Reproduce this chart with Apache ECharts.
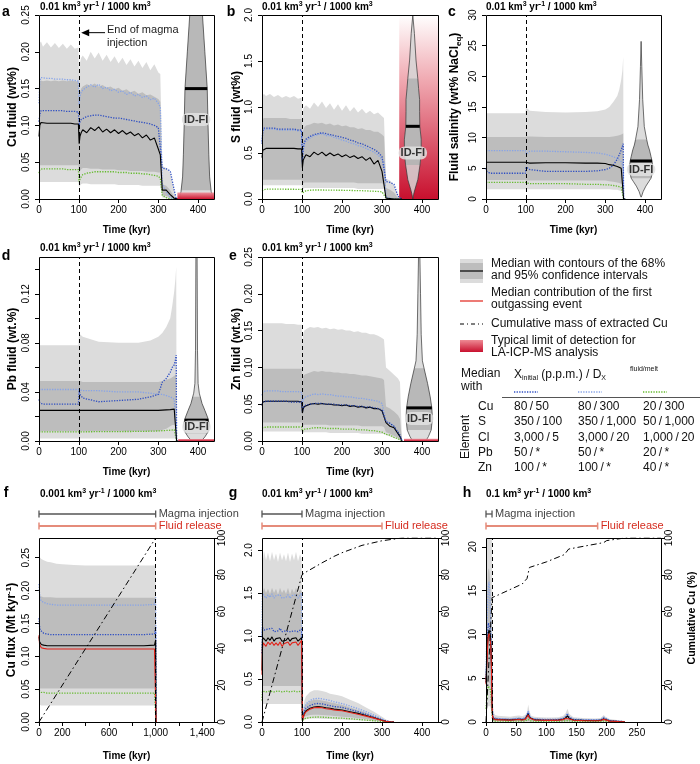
<!DOCTYPE html>
<html><head><meta charset="utf-8">
<script src="https://cdn.jsdelivr.net/npm/echarts@6/dist/echarts.min.js"></script>
<style>html,body{margin:0;padding:0;background:#fff}#c{width:700px;height:764px}</style>
</head><body><div id="c"></div>
<script>
// ---------------- DATA ----------------
// Panels a, b, e share this time grid (kyr)
const Ta = [0,2,5,10,20,30,40,50,60,70,80,90,99,101,103,106,110,120,130,140,150,160,170,180,190,200,210,220,230,240,250,260,270,280,290,300,305,310,320,330,340,345,350];
// a: Cu fluid (wt%)
const aHi95 = [0.205,0.212,0.214,0.207,0.213,0.206,0.212,0.205,0.211,0.204,0.210,0.204,0.206, 0.160,0.185,0.192, 0.195,0.188,0.200,0.191,0.199,0.188,0.196,0.186,0.194,0.184, 0.192,0.182,0.190,0.180,0.188,0.178,0.186,0.175,0.183,0.172, 0.170,0.045,0.042,0.035,0.012,0,0];
const aLo95 = [0.023,0.023,0.023,0.023,0.023,0.023,0.023,0.023,0.023,0.023,0.023,0.023,0.023, 0.015,0.018,0.020, 0.021,0.021,0.020,0.020,0.020,0.020,0.020,0.020,0.020,0.019, 0.019,0.019,0.019,0.019,0.019,0.018,0.018,0.018,0.018,0.018, 0.018,0.002,0.001,0,0,0,0];
const aHi68 = [0.158,0.160,0.161,0.160,0.161,0.160,0.161,0.160,0.161,0.160,0.161,0.160,0.160, 0.130,0.145,0.150, 0.153,0.156,0.154,0.157,0.153,0.155,0.151,0.153,0.149,0.151, 0.147,0.149,0.145,0.147,0.143,0.145,0.141,0.142,0.139,0.136, 0.132,0.020,0.018,0.012,0.003,0,0];
const aLo68 = [0.046,0.046,0.046,0.046,0.046,0.046,0.046,0.046,0.046,0.046,0.046,0.046,0.046, 0.035,0.038,0.040, 0.042,0.042,0.041,0.041,0.041,0.040,0.040,0.040,0.040,0.039, 0.039,0.039,0.038,0.038,0.038,0.038,0.037,0.037,0.037,0.036, 0.036,0.005,0.004,0.002,0,0,0];
const aMed = [0.085,0.100,0.104,0.104,0.103,0.103,0.103,0.103,0.103,0.103,0.103,0.102,0.102, 0.075,0.085,0.090, 0.094,0.090,0.097,0.093,0.098,0.091,0.095,0.090,0.094,0.089, 0.093,0.088,0.091,0.086,0.089,0.083,0.087,0.080,0.083,0.068, 0.060,0.012,0.012,0.006,0.001,0,0];
const aB1 = [0.105,0.115,0.120,0.121,0.120,0.120,0.120,0.120,0.120,0.119,0.119,0.119,0.118, 0.100,0.105,0.108, 0.110,0.112,0.113,0.114,0.114,0.113,0.112,0.111,0.110,0.110, 0.109,0.108,0.107,0.106,0.105,0.104,0.103,0.102,0.100,0.097, 0.095,0.042,0.041,0.038,0.012,0,0];
const aB2 = [0.130,0.160,0.165,0.165,0.164,0.164,0.163,0.163,0.163,0.162,0.162,0.161,0.160, 0.128,0.140,0.145, 0.148,0.152,0.155,0.152,0.156,0.150,0.152,0.147,0.149,0.145, 0.147,0.142,0.145,0.140,0.142,0.138,0.140,0.135,0.137,0.130, 0.125,0.020,0.010,0.002,0,0,0];
const aGr = [0.035,0.040,0.041,0.041,0.041,0.041,0.041,0.041,0.041,0.040,0.040,0.040,0.040, 0.023,0.027,0.030, 0.033,0.035,0.036,0.037,0.037,0.037,0.037,0.037,0.037,0.036, 0.036,0.036,0.035,0.035,0.035,0.034,0.034,0.033,0.032,0.031, 0.028,0.005,0.002,0,0,0,0];
// b: S fluid (wt%)
const bHi95 = [1.10,1.13,1.14,1.12,1.14,1.11,1.13,1.10,1.12,1.10,1.12,1.09,1.10, 0.85,0.98,1.00, 1.02,0.98,1.05,1.00,1.06,0.99,1.04,0.97,1.03,0.96, 1.02,0.95,1.00,0.94,0.98,0.93,0.96,0.92,0.94,0.90, 0.88,0.22,0.20,0.15,0.03,0,0];
const bLo95 = [0.15,0.15,0.15,0.15,0.15,0.15,0.15,0.15,0.15,0.15,0.15,0.15,0.15, 0.10,0.11,0.12, 0.12,0.12,0.12,0.12,0.12,0.12,0.12,0.12,0.12,0.12, 0.12,0.12,0.12,0.11,0.11,0.11,0.11,0.11,0.11,0.11, 0.11,0.01,0,0,0,0,0];
const bHi68 = [0.85,0.87,0.88,0.88,0.88,0.88,0.88,0.88,0.88,0.87,0.87,0.87,0.87, 0.65,0.75,0.78, 0.80,0.81,0.83,0.82,0.83,0.81,0.82,0.80,0.81,0.79, 0.80,0.78,0.78,0.76,0.77,0.75,0.75,0.73,0.73,0.70, 0.68,0.12,0.10,0.07,0.01,0,0];
const bLo68 = [0.21,0.21,0.21,0.21,0.21,0.21,0.21,0.21,0.21,0.21,0.21,0.21,0.21, 0.16,0.17,0.18, 0.18,0.18,0.18,0.18,0.18,0.18,0.18,0.18,0.18,0.18, 0.18,0.18,0.18,0.17,0.17,0.17,0.17,0.17,0.17,0.17, 0.16,0.02,0.01,0,0,0,0];
const bMed = [0.45,0.53,0.55,0.55,0.55,0.55,0.55,0.55,0.55,0.55,0.55,0.545,0.545, 0.34,0.42,0.45, 0.48,0.46,0.51,0.48,0.51,0.47,0.50,0.47,0.49,0.46, 0.48,0.45,0.47,0.44,0.46,0.42,0.45,0.38,0.42,0.30, 0.28,0.01,0.005,0,0,0,0];
const bB1 = [0.60,0.74,0.77,0.77,0.77,0.77,0.76,0.76,0.76,0.76,0.76,0.75,0.75, 0.40,0.55,0.62, 0.65,0.68,0.70,0.71,0.72,0.71,0.70,0.69,0.68,0.67, 0.66,0.64,0.63,0.61,0.60,0.58,0.56,0.54,0.51,0.46, 0.44,0.19,0.18,0.16,0.03,0.01,0];
const bB2 = [0.62,0.75,0.76,0.76,0.76,0.76,0.75,0.75,0.75,0.75,0.75,0.74,0.74, 0.38,0.52,0.60, 0.63,0.66,0.69,0.70,0.71,0.69,0.69,0.67,0.66,0.64, 0.63,0.61,0.60,0.58,0.57,0.55,0.53,0.51,0.48,0.43, 0.40,0.02,0.01,0,0,0,0];
const bGr = [0.09,0.105,0.108,0.108,0.108,0.107,0.107,0.107,0.106,0.106,0.106,0.105,0.105, 0.065,0.075,0.085, 0.090,0.095,0.098,0.098,0.098,0.097,0.097,0.096,0.095,0.095, 0.094,0.093,0.092,0.091,0.090,0.088,0.086,0.084,0.082,0.078, 0.075,0.01,0,0,0,0,0];
// e: Zn fluid (wt.%)
const eHi95 = [0.158,0.160,0.160,0.160,0.160,0.160,0.160,0.160,0.159,0.159,0.159,0.158,0.158, 0.130,0.145,0.150, 0.152,0.155,0.154,0.155,0.153,0.154,0.152,0.153,0.151,0.152, 0.150,0.150,0.148,0.149,0.147,0.147,0.145,0.145,0.143,0.140, 0.138,0.100,0.095,0.090,0.085,0.080,0];
const eLo95 = [0.013,0.013,0.013,0.013,0.013,0.013,0.013,0.013,0.013,0.013,0.013,0.013,0.013, 0.010,0.011,0.012, 0.012,0.012,0.012,0.012,0.012,0.012,0.011,0.011,0.011,0.011, 0.011,0.011,0.011,0.011,0.010,0.010,0.010,0.010,0.010,0.010, 0.010,0.008,0.006,0.004,0.002,0.001,0];
const eHi68 = [0.097,0.098,0.098,0.098,0.098,0.098,0.098,0.098,0.098,0.098,0.098,0.098,0.098, 0.080,0.088,0.090, 0.091,0.093,0.095,0.094,0.095,0.094,0.094,0.093,0.093,0.092, 0.092,0.091,0.091,0.090,0.089,0.089,0.088,0.087,0.086,0.085, 0.083,0.047,0.044,0.040,0.035,0.030,0];
const eLo68 = [0.025,0.025,0.025,0.025,0.025,0.025,0.025,0.025,0.025,0.025,0.025,0.025,0.025, 0.020,0.021,0.022, 0.022,0.022,0.022,0.022,0.022,0.022,0.021,0.021,0.021,0.021, 0.021,0.021,0.021,0.021,0.020,0.020,0.020,0.020,0.020,0.020, 0.019,0.012,0.010,0.007,0.004,0.002,0];
const eMed = [0.048,0.053,0.054,0.054,0.054,0.054,0.054,0.054,0.054,0.054,0.054,0.054,0.053, 0.038,0.044,0.047, 0.049,0.050,0.051,0.050,0.051,0.050,0.050,0.049,0.049,0.048, 0.049,0.047,0.048,0.046,0.047,0.045,0.046,0.044,0.044,0.041, 0.040,0.025,0.020,0.018,0.010,0.006,0];
const eB1 = [0.049,0.053,0.054,0.054,0.054,0.054,0.054,0.054,0.054,0.053,0.053,0.053,0.053, 0.039,0.045,0.048, 0.050,0.050,0.051,0.051,0.051,0.050,0.050,0.050,0.049,0.049, 0.049,0.048,0.048,0.047,0.047,0.046,0.046,0.045,0.044,0.042, 0.041,0.026,0.024,0.020,0.012,0.008,0];
const eB2 = [0.062,0.067,0.068,0.068,0.068,0.068,0.068,0.067,0.067,0.067,0.067,0.067,0.066, 0.048,0.056,0.059, 0.061,0.062,0.064,0.063,0.064,0.063,0.063,0.062,0.061,0.061, 0.060,0.060,0.059,0.058,0.058,0.057,0.056,0.055,0.054,0.051, 0.050,0.027,0.024,0.020,0.010,0.006,0];
const eGr = [0.018,0.019,0.019,0.019,0.019,0.019,0.019,0.019,0.019,0.019,0.019,0.019,0.019, 0.013,0.015,0.016, 0.017,0.017,0.018,0.018,0.018,0.017,0.017,0.017,0.017,0.016, 0.016,0.016,0.016,0.015,0.015,0.015,0.014,0.014,0.013,0.012, 0.012,0.009,0.008,0.005,0.003,0.002,0];

// Panels c, d time grid
const Tc = [0,2,5,10,50,99,101,103,110,150,200,250,280,300,310,320,330,335,340,343,345,346,350];
// c: fluid salinity
const cHi95 = [14.0,14.0,14.0,14.0,14.0,14.0, 15.3,14.8,14.4, 14.2,14.1,14.2,14.3,14.6, 15.0,15.8,16.8,17.8,19.5,21.0,23.2, 0,0];
const cLo95 = [1.6,1.6,1.6,1.6,1.6,1.6, 1.6,1.6,1.6, 1.6,1.6,1.6,1.6,1.6, 1.6,1.5,1.5,1.4,1.3,1.2,1.2, 0,0];
const cHi68 = [10.1,10.1,10.1,10.1,10.1,10.1, 10.2,10.2,10.2, 10.1,10.1,10.1,10.1,10.1, 10.1,10.2,10.3,10.4,10.5,10.6,10.7, 0,0];
const cLo68 = [3.1,3.1,3.1,3.1,3.1,3.1, 3.0,3.0,3.0, 3.0,3.0,3.0,3.0,3.0, 2.9,2.8,2.7,2.6,2.5,2.5,2.4, 0,0];
const cMed = [6.0,6.0,6.0,6.0,6.0,6.0, 5.7,5.8,5.85, 5.9,5.9,5.85,5.85,5.8, 5.6,5.5,5.3,5.2,5.0,4.9,4.8, 0,0];
const cB1 = [5.0,4.5,4.3,4.2,4.2,4.2, 5.2,5.0,4.8, 4.5,4.5,4.5,4.6,4.8, 5.0,5.5,6.5,7.2,8.0,8.6,9.0, 0,0];
const cB2 = [7.9,7.9,7.9,7.9,7.9,7.9, 7.3,7.6,7.8, 7.8,7.7,7.6,7.5,7.3, 7.1,6.9,6.6,6.4,6.1,5.6,5.0, 0,0];
const cGr = [2.7,2.7,2.7,2.7,2.7,2.7, 2.5,2.5,2.5, 2.5,2.5,2.4,2.4,2.3, 2.3,2.2,2.1,2.0,1.9,1.85,1.8, 0,0];
// d: Pb fluid
const dHi95 = [0.078,0.078,0.078,0.078,0.078,0.078, 0.090,0.087,0.085, 0.081,0.080,0.080,0.082,0.085, 0.088,0.093,0.100,0.110,0.122,0.132,0.142, 0,0];
const dLo95 = [0.002,0.002,0.002,0.002,0.002,0.002, 0.002,0.002,0.002, 0.002,0.002,0.002,0.002,0.002, 0.002,0.002,0.002,0.002,0.002,0.002,0.002, 0,0];
const dHi68 = [0.049,0.049,0.049,0.049,0.049,0.049, 0.049,0.049,0.048, 0.048,0.048,0.048,0.048,0.048, 0.049,0.050,0.051,0.052,0.053,0.054,0.055, 0,0];
const dLo68 = [0.008,0.008,0.008,0.008,0.008,0.008, 0.008,0.008,0.008, 0.008,0.008,0.008,0.008,0.008, 0.009,0.010,0.012,0.013,0.013,0.014,0.014, 0,0];
const dMed = [0.025,0.025,0.025,0.025,0.025,0.025, 0.025,0.025,0.025, 0.025,0.025,0.025,0.025,0.025, 0.0252,0.0254,0.0256,0.0258,0.026,0.026,0.026, 0,0];
const dB1 = [0.034,0.031,0.030,0.030,0.030,0.030, 0.041,0.038,0.035, 0.032,0.033,0.034,0.036,0.038, 0.048,0.051,0.056,0.060,0.062,0.066,0.070, 0,0];
const dB2 = [0.042,0.042,0.042,0.042,0.042,0.042, 0.041,0.041,0.041, 0.041,0.040,0.040,0.039,0.038, 0.038,0.037,0.036,0.035,0.034,0.034,0.033, 0,0];
const dGr = [0.0075,0.0075,0.0075,0.0075,0.0075,0.0075, 0.0075,0.0075,0.0075, 0.0076,0.0077,0.0078,0.0080,0.0082, 0.0084,0.0086,0.0088,0.0090,0.0092,0.0093,0.0094, 0,0];

// f: Cu flux, 0.001 km3/yr
const Tf = [0,5,10,20,40,70,100,150,200,300,400,500,600,700,800,900,990,1000,1003,1010];
const fHi95 = [0.255,0.252,0.250,0.248,0.246,0.244,0.243,0.241,0.240,0.239,0.238,0.238,0.238,0.238,0.238,0.238,0.238,0.238,0,0];
const fLo95 = [0.026,0.026,0.026,0.025,0.025,0.025,0.025,0.025,0.025,0.025,0.025,0.025,0.025,0.025,0.025,0.025,0.025,0.025,0,0];
const fHi68 = [0.195,0.193,0.192,0.191,0.190,0.190,0.190,0.189,0.189,0.189,0.189,0.189,0.189,0.189,0.189,0.189,0.189,0.189,0,0];
const fLo68 = [0.052,0.052,0.051,0.051,0.051,0.051,0.051,0.051,0.051,0.051,0.051,0.051,0.051,0.051,0.051,0.051,0.051,0.051,0,0];
const fMed = [0.130,0.122,0.120,0.118,0.117,0.116,0.116,0.116,0.116,0.116,0.116,0.116,0.116,0.116,0.116,0.116,0.117,0.125,0,0];
const fRed = [0.132,0.118,0.115,0.113,0.112,0.111,0.111,0.111,0.111,0.111,0.111,0.111,0.111,0.111,0.111,0.111,0.111,0.112,0,0];
const fB1 = [0.158,0.145,0.140,0.137,0.135,0.134,0.133,0.133,0.133,0.133,0.133,0.133,0.133,0.133,0.133,0.133,0.134,0.145,0,0];
const fB2 = [0.210,0.195,0.188,0.184,0.182,0.180,0.179,0.178,0.178,0.178,0.178,0.178,0.178,0.178,0.178,0.178,0.179,0.190,0,0];
const fGr = [0.048,0.047,0.046,0.045,0.045,0.044,0.044,0.044,0.044,0.044,0.044,0.044,0.044,0.044,0.044,0.044,0.044,0.045,0,0];
const fCumT = [0,1000];
const fCum = [0,100];

// g: Cu flux, 0.01 km3/yr
const Tg = [0,1,3,5,10,15,20,25,30,35,40,45,50,55,60,65,70,75,80,85,90,95,99, 101,103,106,110,120,130,140,150,160,170,180,190,200,220,240,260,280,300,310,320,330];
const gHi95 = [1.70,1.95,1.90,1.99,1.88,1.97,1.87,1.98,1.88,1.96,1.86,1.97,1.88,1.95,1.87,1.97,1.86,1.96,1.88,1.98,1.87,1.95,1.90, 0.05,0.15,0.25,0.30,0.35,0.37,0.37,0.36,0.35,0.33,0.32,0.31,0.30,0.26,0.22,0.17,0.12,0.06,0.03,0.01,0];
const gLo95 = [0.15,0.20,0.21,0.21,0.21,0.21,0.21,0.21,0.21,0.21,0.21,0.21,0.21,0.21,0.21,0.21,0.21,0.21,0.21,0.21,0.21,0.21,0.21, 0,0.02,0.03,0.035,0.04,0.04,0.04,0.038,0.036,0.034,0.032,0.03,0.028,0.024,0.02,0.015,0.01,0.005,0.002,0,0];
const gHi68 = [1.30,1.55,1.52,1.56,1.50,1.55,1.49,1.56,1.50,1.55,1.48,1.56,1.50,1.54,1.49,1.56,1.48,1.55,1.50,1.56,1.49,1.54,1.52, 0.03,0.10,0.17,0.20,0.24,0.26,0.26,0.25,0.24,0.23,0.22,0.21,0.20,0.17,0.14,0.11,0.07,0.035,0.015,0.005,0];
const gLo68 = [0.30,0.42,0.42,0.42,0.42,0.42,0.42,0.42,0.42,0.42,0.42,0.42,0.42,0.42,0.42,0.42,0.42,0.42,0.42,0.42,0.42,0.42,0.42, 0.01,0.04,0.06,0.07,0.08,0.085,0.085,0.08,0.078,0.075,0.07,0.066,0.062,0.055,0.045,0.035,0.02,0.01,0.004,0,0];
const gMed = [0.60,0.95,0.98,0.97,0.94,0.98,0.95,0.99,0.94,0.97,0.95,0.98,0.94,0.96,0.95,0.98,0.94,0.97,0.95,0.98,0.94,0.96,0.98, 0.02,0.06,0.10,0.13,0.16,0.175,0.18,0.175,0.165,0.16,0.15,0.145,0.14,0.12,0.10,0.075,0.05,0.02,0.008,0.002,0];
const gRed = [0.55,0.85,0.92,0.91,0.88,0.93,0.90,0.93,0.89,0.92,0.89,0.93,0.88,0.91,0.90,0.93,0.89,0.92,0.90,0.93,0.89,0.91,0.95, 0.02,0.05,0.09,0.12,0.15,0.165,0.17,0.165,0.155,0.15,0.14,0.135,0.13,0.11,0.09,0.068,0.045,0.018,0.007,0.002,0];
const gB1 = [0.80,1.10,1.09,1.07,1.05,1.08,1.06,1.09,1.05,1.07,1.06,1.09,1.05,1.07,1.06,1.08,1.05,1.07,1.06,1.08,1.05,1.06,1.08, 0.03,0.08,0.13,0.16,0.19,0.21,0.215,0.21,0.20,0.19,0.18,0.175,0.17,0.145,0.12,0.09,0.06,0.025,0.01,0.003,0];
const gB2 = [1.00,1.50,1.52,1.47,1.44,1.48,1.45,1.49,1.44,1.47,1.45,1.48,1.44,1.46,1.45,1.48,1.44,1.47,1.45,1.48,1.44,1.46,1.50, 0.04,0.10,0.17,0.21,0.25,0.27,0.275,0.27,0.26,0.25,0.235,0.225,0.215,0.185,0.155,0.12,0.08,0.035,0.015,0.004,0];
const gGr = [0.25,0.36,0.37,0.36,0.35,0.36,0.36,0.37,0.35,0.36,0.36,0.37,0.35,0.36,0.36,0.37,0.35,0.36,0.36,0.37,0.35,0.36,0.36, 0.01,0.025,0.04,0.045,0.052,0.057,0.058,0.056,0.054,0.05,0.048,0.046,0.044,0.038,0.03,0.022,0.014,0.006,0.002,0,0];
const gCumT = [0,100,110,130,150,180,200,250,300,350,440];
const gCum = [0,80,81.5,84,86.5,90,92,96,98.5,100,100];

// h: Cu flux, 0.1 km3/yr
const Th = [0,1,2,3,4,5,6,7,8,9,10,11,12, 15,20,30,40,50,55,60,65,68,70,72,75,80,90,100,110,120,128,132,135,138,145,160,180,190,195,198,205,220,230];
const hHi95 = [8,18,25,25,25,25,25,25,25,25,20,3,1.2, 0.8,0.7,0.65,0.6,0.7,0.75,0.65,0.8,1.1,2.0, 1.2,0.7,0.6,0.55,0.5,0.5,0.55,0.7,1.0,1.5, 0.9,0.55,0.45,0.4,0.45,0.8,0.6,0.35,0.2,0.1];
const hLo95 = [0.5,1.0,1.5,1.8,1.8,1.8,1.8,1.8,1.5,1.0,0.3,0.03,0.02, 0.02,0.02,0.02,0.02,0.02,0.02,0.02,0.02,0.02,0.02, 0.02,0.02,0.02,0.02,0.02,0.02,0.02,0.02,0.02,0.02, 0.02,0.02,0.02,0.02,0.02,0.02,0.02,0.02,0.02,0];
const hHi68 = [6,12,15,17,17.5,17.5,17,16,14,11,6,1.5,0.6, 0.5,0.45,0.42,0.4,0.45,0.5,0.42,0.55,0.8,1.4, 0.8,0.45,0.4,0.38,0.35,0.35,0.38,0.5,0.7,1.0, 0.6,0.38,0.3,0.28,0.3,0.55,0.4,0.22,0.12,0.05];
const hLo68 = [2,3,4,4.5,4.5,4.5,4.5,4.2,3.8,3,1,0.15,0.1, 0.08,0.08,0.08,0.08,0.08,0.08,0.08,0.08,0.08,0.08, 0.08,0.08,0.08,0.08,0.08,0.08,0.08,0.08,0.08,0.08, 0.08,0.08,0.08,0.08,0.08,0.08,0.08,0.08,0.08,0];
const hMed = [4.5,6.5,8,9.5,10.2,10.5,10.4,10,9,6.5,2,0.6,0.35, 0.3,0.28,0.25,0.22,0.28,0.3,0.25,0.35,0.5,0.9, 0.5,0.3,0.25,0.22,0.2,0.2,0.22,0.3,0.45,0.7, 0.4,0.22,0.18,0.15,0.18,0.35,0.25,0.12,0.06,0.02];
const hRed = [4.3,6,7.5,9,9.8,10.1,10,9.5,8.5,6,1.8,0.5,0.3, 0.25,0.24,0.22,0.2,0.25,0.27,0.22,0.3,0.45,0.8, 0.45,0.27,0.22,0.2,0.18,0.18,0.2,0.27,0.4,0.6, 0.35,0.2,0.16,0.14,0.16,0.3,0.22,0.1,0.05,0.02];
const hB1 = [4.5,7,9,10.5,11.3,11.5,11.2,10.5,9.5,7,2.5,0.8,0.4, 0.35,0.32,0.3,0.27,0.33,0.36,0.3,0.42,0.6,1.1, 0.6,0.36,0.3,0.27,0.25,0.25,0.27,0.36,0.55,0.85, 0.5,0.27,0.22,0.2,0.22,0.45,0.3,0.15,0.08,0.03];
const hB2 = [5,9,12,14,15.5,16,15,13,11,8,3,1,0.5, 0.45,0.4,0.38,0.35,0.42,0.45,0.38,0.52,0.75,1.3, 0.75,0.45,0.38,0.35,0.32,0.32,0.35,0.45,0.65,1.0, 0.6,0.35,0.28,0.25,0.28,0.55,0.38,0.18,0.1,0.04];
const hGr = [1.5,2.5,3.2,3.8,4.1,4.2,4.0,3.7,3.2,2.3,0.8,0.2,0.12, 0.1,0.1,0.09,0.08,0.1,0.11,0.09,0.12,0.17,0.3, 0.17,0.1,0.09,0.08,0.07,0.07,0.08,0.1,0.15,0.25, 0.14,0.08,0.06,0.05,0.06,0.12,0.09,0.04,0.02,0.01];
const hCumT = [0,10,20,40,60,68,72,100,130,137,170,195,200,230,290];
const hCum = [0,67.6,69,72,75,78,84,87,91,94,96,97.5,98.6,100,100];

// Violins (ID-FI): value levels and half-widths (kyr); stats = [centre, lo68, hi68, median, label level]
const vaY = [0,0.01,0.03,0.06,0.10,0.15,0.20,0.25,0.30];
const vaW = [42,38,34,32,30,28,22,16,10];
const vaS = [395,0.012,0.30,0.15,0.108];
const vbY = [0,0.05,0.10,0.21,0.37,0.50,0.65,0.79,0.95,1.08,1.20,1.31,1.51,1.80,2.00];
const vbW = [0,2,5,12.5,18,21,21,17.5,17,17,14.5,12.5,8,4,0];
const vbS = [377,0.37,1.31,0.79,0.50];
const vcY = [0.3,0.5,1.2,2.1,2.9,3.4,4.8,6.2,6.9,8.0,8.8,9.7,11.8,16.2,21.6,25.7];
const vcW = [0,1.5,5,12,20,25,30,27.5,25,21,17,14,8,4,1.7,0];
const vcS = [390,3.4,9.7,6.2,4.8];
const vdY = [-0.005,0,0.0033,0.0074,0.0128,0.017,0.0196,0.025,0.0305,0.039,0.047,0.074,0.15,0.2];
const vdW = [8,12,21,29,32,30,27.5,21,14,7,4,2.5,1.5,1];
const vdS = [396,0.006,0.036,0.017,0.0115];
const veY = [-0.005,0,0.006,0.015,0.0306,0.045,0.06,0.078,0.098,0.109,0.145,0.2,0.25,0.3];
const veW = [12,16.6,23,30,33,31.6,27.5,21,12.5,8,5,3.3,1.7,1];
const veS = [393,0.015,0.099,0.045,0.0306];

// Phases above f, g, h (kyr)
const injEnd = [1000, 100, 10];
const relEnd = [1000, 300, 185];

// Axis ticks
const xTicks = [0,100,200,300,400];
const fTicks = [0,200,400,600,800,1000,1200,1400];
const fLabels = [0,200,600,1000,1400];
const hTicks = [0,50,100,150,200,250];
const cumTicks = [0,20,40,60,80,100];

// Legend table
const tabEl = ['Cu','S','Cl','Pb','Zn'];
const tabC1 = ['80/50','350/100','3,000/5','50/*','100/*'];
const tabC2 = ['80/300','350/1,000','3,000/20','50/*','100/*'];
const tabC3 = ['20/300','50/1,000','1,000/20','20/*','40/*'];

// ---------------- CHART ----------------
const F = '"Liberation Sans", Arial, Helvetica, sans-serif';
const COL = {l95:'#dcdcdc', l68:'#bdbdbd', med:'#000000', b1:'#2f4fc2', b2:'#86a3e8', gr:'#66bb30', red:'#e2231a'};
const grids = [[39,15,175,184],[262,15,176,184],[486,15,175,184],[39,257,175,184],[262,257,176,184],[39,538,175,184],[262,538,176,184],[486,538,175,184]];

const chart = echarts.init(document.getElementById('c'), null, {renderer:'canvas', width:700, height:764});

const f2 = v => v.toFixed(2), f1 = v => v.toFixed(1), f0 = v => String(Math.round(v));
const fc = v => String(v).replace(/\B(?=(\d{3})+(?!\d))/g, ',');

function xAx(g, max, ticks, labels) {
  return {type:'value', gridIndex:g, min:0, max:max, axisLine:{show:false}, splitLine:{show:false},
    axisTick:{show:true, customValues:ticks, length:4, lineStyle:{color:'#000', width:1}},
    axisLabel:{customValues:labels||ticks, formatter:fc, color:'#000', fontSize:10, fontFamily:F, margin:6}};
}
function yAx(g, max, ticks, labels, fmt, pos) {
  return {type:'value', gridIndex:g, min:0, max:max, position:pos||'left', axisLine:{show:false}, splitLine:{show:false},
    axisTick:{show:true, customValues:ticks, length:4, lineStyle:{color:'#000', width:1}},
    axisLabel:{customValues:labels||ticks, formatter:fmt, rotate:90, color:'#000', fontSize:10, fontFamily:F, margin:pos==='right'?3:8}};
}

const xAxis = [xAx(0,440,xTicks), xAx(1,440,xTicks), xAx(2,440,xTicks), xAx(3,440,xTicks), xAx(4,440,xTicks),
  xAx(5,1500,fTicks,fLabels), xAx(6,440,xTicks), xAx(7,290,hTicks)];
const yAxis = [
  yAx(0,0.25,[0,0.05,0.10,0.15,0.20,0.25],null,f2),
  yAx(1,2.0,[0,0.5,1.0,1.5,2.0],null,f1),
  yAx(2,30,[0,5,10,15,20,25,30],null,f0),
  yAx(3,0.15,[0,0.02,0.04,0.06,0.08,0.10,0.12,0.14],[0,0.04,0.08,0.12],f2),
  yAx(4,0.25,[0,0.05,0.10,0.15,0.20,0.25],null,f2),
  yAx(5,0.28,[0,0.05,0.10,0.15,0.20,0.25],null,f2),
  yAx(6,2.14,[0,0.5,1.0,1.5,2.0],null,f1),
  yAx(7,21,[0,5,10,15,20],null,f0),
  yAx(5,100,cumTicks,null,f0,'right'),
  yAx(6,100,cumTicks,null,f0,'right'),
  yAx(7,100,cumTicks,null,f0,'right')
];

const series = [];
const pairs = (T, Y) => T.map((t,i) => [t, Y[i]]);

function addBands(g, T, lo95, hi95, lo68, hi68) {
  series.push({type:'custom', xAxisIndex:g, yAxisIndex:g, silent:true, clip:true, z:1, data:[[T[0], lo95[0]]],
    renderItem: function(p, api) {
      const poly = (lo, hi) => {
        const pts = [];
        T.forEach((t,i) => pts.push(api.coord([t, hi[i]])));
        for (let i=T.length-1;i>=0;i--) pts.push(api.coord([T[i], lo[i]]));
        return pts;
      };
      return {type:'group', children:[
        {type:'polygon', shape:{points:poly(lo95,hi95)}, style:{fill:COL.l95}},
        {type:'polygon', shape:{points:poly(lo68,hi68)}, style:{fill:COL.l68}}
      ]};
    }});
}
function addLine(g, T, Y, color, dotted, extra, yi) {
  const s = {type:'line', xAxisIndex:g, yAxisIndex:(yi===undefined?g:yi), data:pairs(T,Y), symbol:'none', silent:true, z:3,
    lineStyle:{color:color, width:dotted?1.3:1.1, type:dotted?[1.3,1.3]:'solid'}};
  series.push(Object.assign(s, extra||{}));
}
function vline(x) {
  return {markLine:{silent:true, symbol:['none','none'], animation:false, label:{show:false},
    lineStyle:{color:'#000', type:[4,3], width:1}, data:[{xAxis:x}]}};
}
function addDetect(g, x0, x1, y1, stops, z) {
  series.push({type:'custom', xAxisIndex:g, yAxisIndex:g, silent:true, z:z, clip:true, data:[[x0,0,x1,y1]],
    renderItem: function(p, api) {
      const a = api.coord([api.value(0), api.value(1)]);
      const b = api.coord([api.value(2), api.value(3)]);
      return {type:'rect', shape:{x:a[0], y:b[1], width:b[0]-a[0], height:a[1]-b[1]},
        style:{fill:new echarts.graphic.LinearGradient(0,0,0,1,stops)}};
    }});
}
function interpW(Y, W, y) {
  for (let i=0;i<Y.length-1;i++) if (y>=Y[i] && y<=Y[i+1]) { const t=(y-Y[i])/(Y[i+1]-Y[i]); return W[i]+t*(W[i+1]-W[i]); }
  return 0;
}
function addViolin(g, Y, W, S) {
  const c=S[0], lo=S[1], hi=S[2], med=S[3], lab=S[4];
  series.push({type:'custom', xAxisIndex:g, yAxisIndex:g, silent:true, clip:true, z:5, data:[[c, med]],
    renderItem: function(p, api) {
      const pt = (x,y) => api.coord([x,y]);
      const outer = [];
      Y.forEach((y,i) => outer.push(pt(c+W[i], y)));
      for (let i=Y.length-1;i>=0;i--) outer.push(pt(c-W[i], Y[i]));
      const ys = [lo]; Y.forEach(y => { if (y>lo && y<hi) ys.push(y); }); ys.push(hi);
      const inner = [];
      ys.forEach(y => inner.push(pt(c+interpW(Y,W,y), y)));
      for (let i=ys.length-1;i>=0;i--) inner.push(pt(c-interpW(Y,W,ys[i]), ys[i]));
      const wm = interpW(Y,W,med);
      const m1 = pt(c-wm, med), m2 = pt(c+wm, med), lp = pt(c, lab);
      return {type:'group', children:[
        {type:'polygon', shape:{points:outer}, style:{fill:'rgba(214,214,214,0.85)'}},
        {type:'polygon', shape:{points:inner}, style:{fill:'rgba(180,180,180,0.92)'}},
        {type:'polygon', shape:{points:outer}, style:{fill:'none', stroke:'#333', lineWidth:0.7}},
        {type:'line', shape:{x1:m1[0], y1:m1[1], x2:m2[0], y2:m2[1]}, style:{stroke:'#000', lineWidth:3}},
        {type:'text', x:lp[0], y:lp[1], style:{text:'ID-FI', font:'bold 11px '+F, fill:'#333', align:'center', verticalAlign:'middle',
          backgroundColor:'rgba(226,226,226,0.85)', borderRadius:6, padding:[1,2]}}
      ]};
    }});
}

const redStrip = [{offset:0, color:'rgba(238,140,150,0.9)'},{offset:1, color:'#cc1530'}];
const redTall = [{offset:0, color:'rgba(255,255,255,1)'},{offset:0.35, color:'rgba(240,170,178,1)'},{offset:1, color:'#c8102e'}];

// a
addBands(0, Ta, aLo95, aHi95, aLo68, aHi68);
addLine(0, Ta, aGr, COL.gr, true);
addLine(0, Ta, aB2, COL.b2, true);
addLine(0, Ta, aB1, COL.b1, true);
addLine(0, Ta, aMed, COL.med, false, vline(100));
addViolin(0, vaY, vaW, vaS);
addDetect(0, 348, 440, 0.009, redStrip, 6);
// b
addDetect(1, 343, 440, 2.0, redTall, 0);
addBands(1, Ta, bLo95, bHi95, bLo68, bHi68);
addLine(1, Ta, bGr, COL.gr, true);
addLine(1, Ta, bB2, COL.b2, true);
addLine(1, Ta, bB1, COL.b1, true);
addLine(1, Ta, bMed, COL.med, false, vline(100));
addViolin(1, vbY, vbW, vbS);
// c
addBands(2, Tc, cLo95, cHi95, cLo68, cHi68);
addLine(2, Tc, cGr, COL.gr, true);
addLine(2, Tc, cB2, COL.b2, true);
addLine(2, Tc, cB1, COL.b1, true);
addLine(2, Tc, cMed, COL.med, false, vline(100));
addViolin(2, vcY, vcW, vcS);
// d
addBands(3, Tc, dLo95, dHi95, dLo68, dHi68);
addLine(3, Tc, dGr, COL.gr, true);
addLine(3, Tc, dB2, COL.b2, true);
addLine(3, Tc, dB1, COL.b1, true);
addLine(3, Tc, dMed, COL.med, false, vline(100));
addViolin(3, vdY, vdW, vdS);
addDetect(3, 350, 440, 0.0017, redStrip, 6);
// e
addBands(4, Ta, eLo95, eHi95, eLo68, eHi68);
addLine(4, Ta, eGr, COL.gr, true);
addLine(4, Ta, eB2, COL.b2, true);
addLine(4, Ta, eMed, COL.med, false, vline(100));
addLine(4, Ta, eB1, '#1f3a9a', true);
addViolin(4, veY, veW, veS);
addDetect(4, 355, 440, 0.003, redStrip, 6);
// f
addBands(5, Tf, fLo95, fHi95, fLo68, fHi68);
addLine(5, Tf, fGr, COL.gr, true);
addLine(5, Tf, fB2, COL.b2, true);
addLine(5, Tf, fB1, COL.b1, true);
addLine(5, Tf, fMed, COL.med, false, vline(1000));
addLine(5, Tf, fRed, COL.red, false);
addLine(5, fCumT, fCum, '#000', false, {lineStyle:{color:'#000', width:1, type:[6,3,1.5,3]}}, 8);
// g
addBands(6, Tg, gLo95, gHi95, gLo68, gHi68);
addLine(6, Tg, gGr, COL.gr, true);
addLine(6, Tg, gB2, COL.b2, true);
addLine(6, Tg, gB1, COL.b1, true);
addLine(6, Tg, gMed, COL.med, false, vline(100));
addLine(6, Tg, gRed, COL.red, false);
addLine(6, gCumT, gCum, '#000', false, {lineStyle:{color:'#000', width:1, type:[6,3,1.5,3]}}, 9);
// h
addBands(7, Th, hLo95, hHi95, hLo68, hHi68);
addLine(7, Th, hGr, COL.gr, true);
addLine(7, Th, hB2, COL.b2, true);
addLine(7, Th, hB1, COL.b1, true);
addLine(7, Th, hMed, COL.med, false, vline(10));
addLine(7, Th, hRed, COL.red, false);
addLine(7, hCumT, hCum, '#000', false, {lineStyle:{color:'#000', width:1, type:[6,3,1.5,3]}}, 10);

chart.setOption({
  animation:false,
  backgroundColor:'#ffffff',
  textStyle:{fontFamily:F},
  grid: grids.map(g => ({left:g[0], top:g[1], width:g[2], height:g[3], show:false, containLabel:false, outerBoundsMode:'none'})),
  xAxis: xAxis, yAxis: yAxis, series: series
});

// ---------------- GRAPHICS (texts, frames, legend) ----------------
const G = [];
const bold10 = {fontSize:10, fontWeight:'bold', fontFamily:F, lineHeight:13, fill:'#000'};
const bold12 = {fontSize:12, fontWeight:'bold', fontFamily:F, lineHeight:15, fill:'#000'};
const sup7 = {fontSize:7, fontWeight:'bold', fontFamily:F, lineHeight:7, verticalAlign:'top', fill:'#000'};
const sup8 = {fontSize:8, fontWeight:'bold', fontFamily:F, lineHeight:8, verticalAlign:'top', fill:'#000'};
const sub8 = {fontSize:8, fontWeight:'bold', fontFamily:F, lineHeight:8, verticalAlign:'bottom', fill:'#000'};
function T(x, y, text, o) {
  o = o || {};
  G.push({type:'text', x:x, y:y, z:100, silent:true, rotation:o.rot||0,
    style:{text:text, font:o.font||('11px '+F), fill:o.fill||'#111', align:o.align||'left', verticalAlign:o.va||'middle', rich:o.rich}});
}
function L(x1,y1,x2,y2,stroke,w,dash) {
  G.push({type:'line', z:100, silent:true, shape:{x1:x1,y1:y1,x2:x2,y2:y2}, style:{stroke:stroke, lineWidth:w, lineDash:dash||null}});
}
// frames
grids.forEach(g => G.push({type:'rect', z:101, silent:true, shape:{x:g[0]+0.5, y:g[1]+0.5, width:g[2], height:g[3]}, style:{fill:'none', stroke:'#000', lineWidth:1}}));

// panel letters
[['a',6,12],['b',231,12],['c',452,12],['d',6,256],['e',233,256],['f',6,493],['g',233,493],['h',467,493]]
  .forEach(p => T(p[1], p[2], p[0], {font:'bold 14px '+F, fill:'#000', align:'center'}));
// panel titles
const rt = {b:bold10, s:sup7};
function title(x, y, rate) { T(x, y, '{b|'+rate+' km}{s|3}{b| yr}{s|-1}{b| / 1000 km}{s|3}', {rich:rt}); }
[[40,7],[262,7],[486,7],[40,248],[262,248]].forEach(p => title(p[0], p[1], '0.01'));
title(40, 494, '0.001'); title(262, 494, '0.01'); title(486, 494, '0.1');

// x-axis titles
grids.forEach((g,i) => {
  const y = i<3 ? 230 : (i<5 ? 472 : 756);
  T(g[0]+g[2]/2, y, 'Time (kyr)', {font:'bold 10px '+F, fill:'#000', align:'center'});
});
// y-axis titles
const R90 = Math.PI/2;
const YF = 'bold 12px '+F;
T(13, 107, 'Cu fluid (wt%)', {font:YF, fill:'#000', align:'center', rot:R90});
T(237, 107, 'S fluid (wt%)', {font:YF, fill:'#000', align:'center', rot:R90});
T(455, 107, '{b|Fluid salinity (wt% NaCl}{u|eq}{b|)}', {align:'center', rot:R90, rich:{b:bold12, u:sub8}});
T(13, 349, 'Pb fluid (wt.%)', {font:YF, fill:'#000', align:'center', rot:R90});
T(237, 349, 'Zn fluid (wt.%)', {font:YF, fill:'#000', align:'center', rot:R90});
T(12, 630, '{b|Cu flux (Mt kyr}{s|-1}{b|)}', {align:'center', rot:R90, rich:{b:bold12, s:sup8}});
T(692, 618, 'Cumulative Cu (%)', {font:'bold 10.5px '+F, fill:'#000', align:'center', rot:R90});

// annotation in a
T(107, 30, 'End of magma', {font:'11px '+F, fill:'#222'});
T(107, 43, 'injection', {font:'11px '+F, fill:'#222'});
const arA = chart.convertToPixel({xAxisIndex:0, yAxisIndex:0}, [166, 0.226]);
const arB = chart.convertToPixel({xAxisIndex:0, yAxisIndex:0}, [106, 0.226]);
L(arA[0], arA[1], arB[0]+5, arB[1], '#000', 1);
G.push({type:'polygon', z:100, silent:true, shape:{points:[[arB[0],arB[1]],[arB[0]+8,arB[1]-3.5],[arB[0]+8,arB[1]+3.5]]}, style:{fill:'#000'}});

// phase bars above f, g, h
[5,6,7].forEach((g,k) => {
  const x0 = chart.convertToPixel({xAxisIndex:g}, 0);
  const xi = chart.convertToPixel({xAxisIndex:g}, injEnd[k]);
  const xr = chart.convertToPixel({xAxisIndex:g}, relEnd[k]);
  const yi = 514, yr = 526;
  L(x0, yi, xi, yi, '#555', 1.3); L(x0, yi-3.5, x0, yi+3.5, '#555', 1.3); L(xi, yi-3.5, xi, yi+3.5, '#555', 1.3);
  T(xi+3, yi, 'Magma injection', {font:'11px '+F, fill:'#444'});
  L(x0, yr, xr, yr, '#e58b7a', 2); L(x0, yr-3.5, x0, yr+3.5, '#e58b7a', 1.5); L(xr, yr-3.5, xr, yr+3.5, '#e58b7a', 1.5);
  T(xr+3, yr, 'Fluid release', {font:'11px '+F, fill:'#d52b1e'});
});

// legend
const LF = '12px '+F;
G.push({type:'rect', z:100, silent:true, shape:{x:460, y:259, width:23, height:24}, style:{fill:COL.l95}});
G.push({type:'rect', z:100, silent:true, shape:{x:460, y:263, width:23, height:16}, style:{fill:COL.l68}});
L(460, 271, 483, 271, '#000', 1.2);
T(491, 264, 'Median with contours of the 68%', {font:LF});
T(491, 276, 'and 95% confidence intervals', {font:LF});
L(460, 301, 483, 301, COL.red, 1.2);
T(491, 293, 'Median contribution of the first', {font:LF});
T(491, 305, 'outgassing event', {font:LF});
L(460, 324, 483, 324, '#000', 1, [4,3,1,3]);
T(491, 324, 'Cumulative mass of extracted Cu', {font:LF});
G.push({type:'rect', z:100, silent:true, shape:{x:460, y:340, width:23, height:12},
  style:{fill:new echarts.graphic.LinearGradient(0,0,0,1,[{offset:0,color:'#ee8a94'},{offset:1,color:'#c8102e'}])}});
T(491, 341, 'Typical limit of detection for', {font:LF});
T(491, 353, 'LA-ICP-MS analysis', {font:LF});
T(461, 374, 'Median', {font:LF});
T(461, 387, 'with', {font:LF});
const rn = {fontSize:12, fontFamily:F, fill:'#111', lineHeight:14};
const rs = {fontSize:7, fontFamily:F, fill:'#111', lineHeight:7, verticalAlign:'bottom'};
T(514, 375, '{n|X}{s|initial}{n| (p.p.m.) / D}{s|X}', {rich:{n:rn, s:rs}});
T(630, 369, 'fluid/melt', {font:'7px '+F, fill:'#111'});
L(514, 392, 538, 392, COL.b1, 1.3, [1.3,1.3]);
L(578, 392, 602, 392, COL.b2, 1.3, [1.3,1.3]);
L(643, 392, 667, 392, COL.gr, 1.3, [1.3,1.3]);
L(502, 397.5, 700, 397.5, '#555', 1);
const sl = s => s.replace('/', '\u2009/\u2009');
tabEl.forEach((el,i) => {
  const y = 407 + i*15.1;
  T(478, y, el, {font:LF});
  T(514, y, sl(tabC1[i]), {font:LF});
  T(578, y, sl(tabC2[i]), {font:LF});
  T(643, y, sl(tabC3[i]), {font:LF});
});
T(466, 437, 'Element', {font:LF, align:'center', rot:R90});

chart.setOption({graphic: G});
</script></body></html>
